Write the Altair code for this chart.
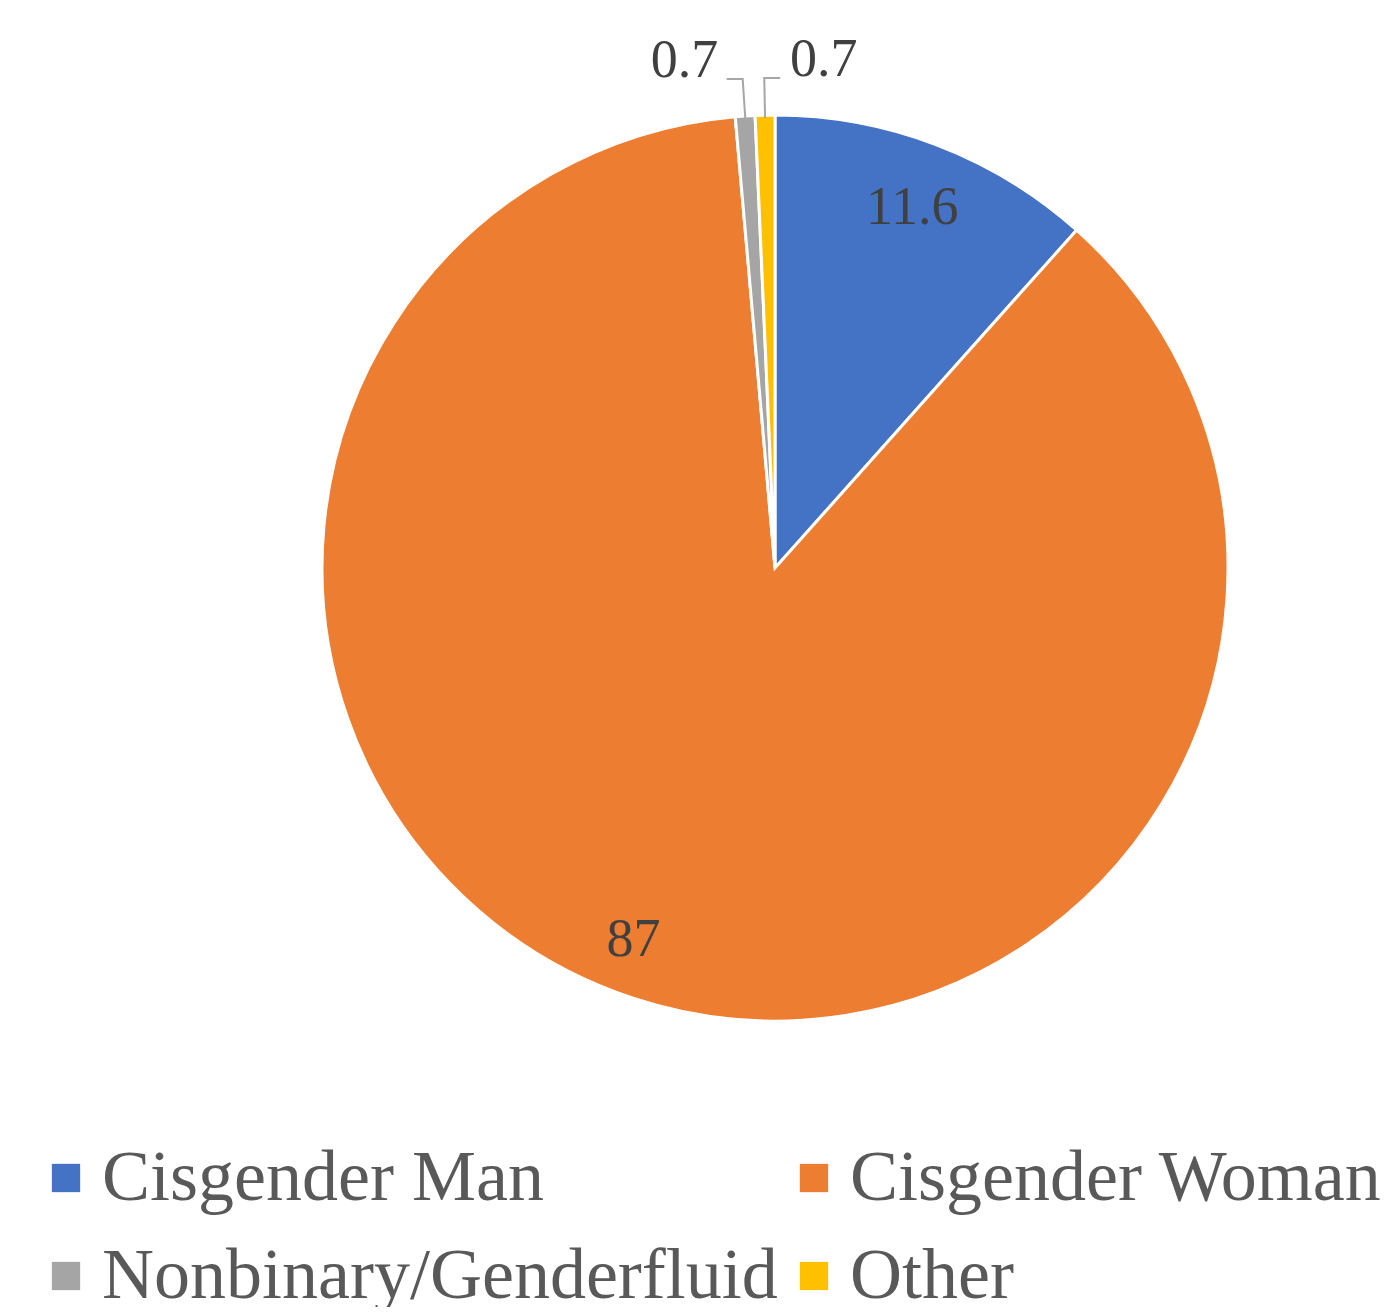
import altair as alt
import pandas as pd
import numpy as np

categories = ["Cisgender Man", "Cisgender Woman", "Nonbinary/Genderfluid", "Other"]
values = [11.6, 87, 0.7, 0.7]
labels = ["11.6", "87", "0.7", "0.7"]
colors = ["#4472C4", "#ED7D31", "#A5A5A5", "#FFC000"]

df = pd.DataFrame({"category": categories, "value": values, "label": labels,
                   "ord": list(range(len(categories)))})

CX, CY, R = 767, 560, 453
W, H = 1375, 1299
FONT = "Liberation Serif"

theta_scale = alt.Scale(domain=[0, 100])

base = alt.Chart(df).transform_window(
    cum="sum(value)", sort=[alt.SortField("ord")], frame=[None, 0]
).transform_calculate(
    start="datum.cum - datum.value", mid="datum.cum - datum.value / 2"
)

arcs = base.mark_arc(outerRadius=R, stroke="white", strokeWidth=3).encode(
    x=alt.value(CX), y=alt.value(CY),
    theta=alt.Theta("start:Q", scale=theta_scale),
    theta2="cum:Q",
    color=alt.Color(
        "category:N",
        scale=alt.Scale(domain=categories, range=colors),
        legend=alt.Legend(
            orient="none", legendX=22, legendY=1134, columns=2, direction="horizontal",
            title=None,
            symbolType="square", symbolSize=800, symbolStrokeWidth=0,
            labelFont=FONT, labelFontSize=72, labelColor="#595959",
            labelOffset=0, columnPadding=0, rowPadding=26, labelLimit=0,
            padding=0,
        ),
    ),
)


def label_layer(cat, radius, dx=0, dy=0):
    return base.transform_filter(alt.datum.category == cat).mark_text(
        radius=radius, dx=dx, dy=dy, font=FONT, fontSize=54, color="#404040",
        align="center", baseline="middle",
    ).encode(
        x=alt.value(CX), y=alt.value(CY),
        theta=alt.Theta("mid:Q", scale=theta_scale),
        text="label:N",
    )


lab_man = label_layer("Cisgender Man", 385)
lab_woman = label_layer("Cisgender Woman", 392, dx=-18)
lab_nb = label_layer("Nonbinary/Genderfluid", 508, dx=-57)
lab_other = label_layer("Other", 508, dx=60)

# leader lines for the small slices, derived from slice mid angles
vals = np.array(values, dtype=float)
cum = np.cumsum(vals)
mid = cum - vals / 2
rows = []
sides = {"Nonbinary/Genderfluid": -1, "Other": 1}
for i, cat in enumerate(categories):
    if cat in sides:
        a = mid[i] / 100 * 2 * np.pi
        ex, ey = 450 * np.sin(a), -450 * np.cos(a)
        bx, by = 490 * np.sin(a), -490 * np.cos(a)
        rows += [
            dict(category=cat, k=0, x=ex, y=ey),
            dict(category=cat, k=1, x=bx, y=by),
            dict(category=cat, k=2, x=bx + sides[cat] * 16, y=by),
        ]
lead_df = pd.DataFrame(rows)

leaders = alt.Chart(lead_df).mark_line(color="#A6A6A6", strokeWidth=2).encode(
    x=alt.X("x:Q", scale=alt.Scale(domain=[-CX, W - CX], nice=False, zero=False), axis=None),
    y=alt.Y("y:Q", scale=alt.Scale(domain=[-CY, H - CY], nice=False, zero=False, reverse=True), axis=None),
    detail="category:N",
    order="k:Q",
)

chart = alt.layer(arcs, leaders, lab_man, lab_woman, lab_nb, lab_other).properties(
    width=W, height=H, padding=0, autosize=alt.AutoSizeParams(type="none"),
    background="white",
).configure_view(stroke=None)

chart.save("out.html", embed_options={"renderer": "svg", "actions": False})
